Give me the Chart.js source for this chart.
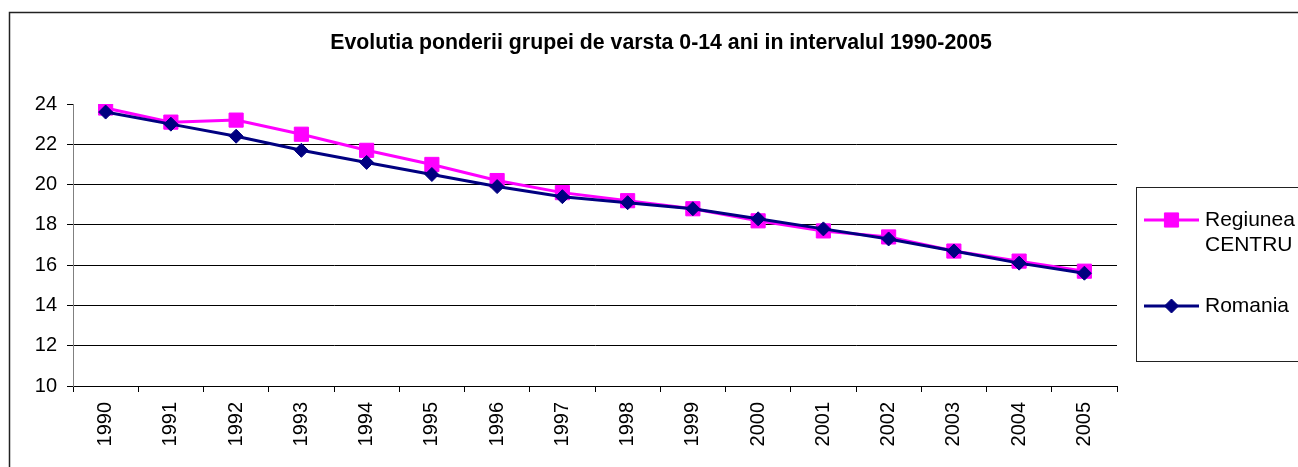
<!DOCTYPE html>
<html>
<head>
<meta charset="utf-8">
<script src="https://cdn.jsdelivr.net/npm/chart.js@4/dist/chart.umd.min.js"></script>
<style>
html,body{margin:0;padding:0;background:#fff;}
#wrap{position:relative;width:1298px;height:467px;}
</style>
</head>
<body>
<div id="wrap"><canvas id="c" width="1298" height="467"></canvas></div>
<script>
const titleText = "Evolutia ponderii grupei de varsta 0-14 ani in intervalul 1990-2005";
const years = ["1990","1991","1992","1993","1994","1995","1996","1997","1998","1999","2000","2001","2002","2003","2004","2005"];
const regiuneaCentru = [23.8,23.1,23.2,22.5,21.7,21.0,20.2,19.6,19.2,18.8,18.2,17.7,17.4,16.7,16.2,15.7];
const romania = [23.6,23.0,22.4,21.7,21.1,20.5,19.9,19.4,19.1,18.8,18.3,17.8,17.3,16.7,16.1,15.6];
const legendLabels = [["Regiunea","CENTRU"],["Romania"]];
const yMin = 10, yMax = 24, yStep = 2;

const FONT = "'Liberation Sans', Arial, sans-serif";
const PINK = "#FF00FF", NAVY = "#000080";

const decor = {
  id: 'decor',
  beforeDraw(chart) {
    const ctx = chart.ctx;
    ctx.save();
    ctx.fillStyle = '#fff';
    ctx.fillRect(0, 0, chart.width, chart.height);
    ctx.strokeStyle = '#222';
    ctx.lineWidth = 1.5;
    ctx.strokeRect(9.5, 12.5, 1320, 480);
    ctx.restore();
  },
  afterDraw(chart) {
    const ctx = chart.ctx;
    ctx.save();
    // title
    ctx.fillStyle = '#000';
    ctx.font = "bold 21.3px " + FONT;
    ctx.textAlign = 'center';
    ctx.textBaseline = 'middle';
    ctx.fillText(titleText, 661, 43);
    // legend box
    ctx.strokeStyle = '#222';
    ctx.lineWidth = 1;
    ctx.strokeRect(1136.5, 187.5, 200, 174);
    const entries = [
      {ds: chart.data.datasets[0], y: 220, lines: legendLabels[0]},
      {ds: chart.data.datasets[1], y: 306, lines: legendLabels[1]}
    ];
    ctx.font = "21px " + FONT;
    ctx.textAlign = 'left';
    entries.forEach(e => {
      ctx.strokeStyle = e.ds.borderColor;
      ctx.lineWidth = 3;
      ctx.beginPath();
      ctx.moveTo(1144, e.y);
      ctx.lineTo(1199, e.y);
      ctx.stroke();
      ctx.fillStyle = e.ds.pointBackgroundColor;
      ctx.strokeStyle = e.ds.pointBorderColor;
      ctx.lineWidth = 1;
      ctx.beginPath();
      if (e.ds.pointStyle === 'rect') {
        const s = Math.SQRT1_2 * e.ds.pointRadius;
        ctx.rect(1171.5 - s, e.y - s, 2*s, 2*s);
      } else {
        const r = e.ds.pointRadius;
        ctx.moveTo(1171.5, e.y - r); ctx.lineTo(1171.5 + r, e.y); ctx.lineTo(1171.5, e.y + r); ctx.lineTo(1171.5 - r, e.y); ctx.closePath();
      }
      ctx.fill(); ctx.stroke();
      ctx.fillStyle = '#000';
      e.lines.forEach((t, i) => ctx.fillText(t, 1205, e.y + i * 25));
    });
    ctx.restore();
  }
};

new Chart(document.getElementById('c'), {
  type: 'line',
  data: {
    labels: years,
    datasets: [
      {label: legendLabels[0].join(' '), data: regiuneaCentru, borderColor: PINK, backgroundColor: PINK,
       pointBackgroundColor: PINK, pointBorderColor: PINK, pointStyle: 'rect', pointRadius: 10, pointBorderWidth: 1,
       borderWidth: 3, tension: 0, order: 2},
      {label: legendLabels[1][0], data: romania, borderColor: NAVY, backgroundColor: NAVY,
       pointBackgroundColor: NAVY, pointBorderColor: NAVY, pointStyle: 'rectRot', pointRadius: 7, pointBorderWidth: 1,
       borderWidth: 3, tension: 0, order: 1}
    ]
  },
  options: {
    responsive: false,
    animation: false,
    devicePixelRatio: 1,
    layout: {padding: {top: 104, right: 181, bottom: 0, left: 0}},
    plugins: {legend: {display: false}, title: {display: false}, tooltip: {enabled: false}},
    elements: {point: {hoverRadius: 0}},
    scales: {
      x: {
        type: 'category',
        offset: true,
        afterFit(s) { s.height = 81; },
        grid: {offset: true, drawOnChartArea: false, drawTicks: true, tickLength: 6, tickColor: '#000', color: '#000'},
        border: {display: true, color: '#000', width: 1},
        ticks: {minRotation: 90, maxRotation: 90, autoSkip: false, padding: 10, color: '#000', font: {family: FONT, size: 20}}
      },
      y: {
        min: yMin, max: yMax,
        afterFit(s) { s.width = 73; },
        grid: {
          color: ctx => (ctx.tick && ctx.tick.value === yMax) ? 'rgba(0,0,0,0)' : '#000',
          tickColor: '#000', tickLength: 6, lineWidth: 1
        },
        border: {display: true, color: '#808080', width: 1},
        ticks: {stepSize: yStep, padding: 10, color: '#000', font: {family: FONT, size: 20}}
      }
    }
  },
  plugins: [decor]
});
</script>
</body>
</html>
